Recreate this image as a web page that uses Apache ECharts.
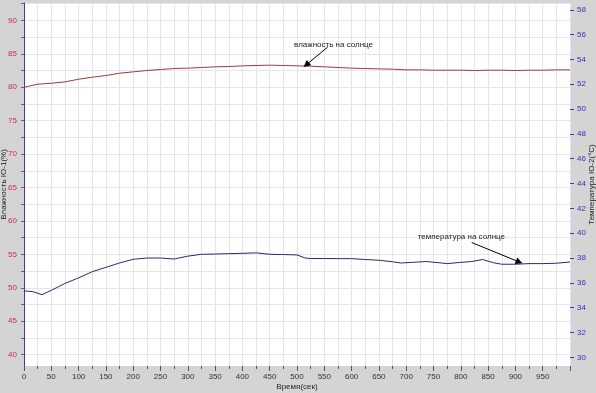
<!DOCTYPE html>
<html>
<head>
<meta charset="utf-8">
<script src="https://cdn.jsdelivr.net/npm/echarts@6/dist/echarts.min.js"></script>
<style>html,body{margin:0;padding:0;background:#d4d4d4;}#c{width:596px;height:393px;}</style>
</head>
<body>
<div id="c"></div>
<script>
// Time (s) and humidity IO-1 (%)
const humTime = [0,25,50,75,100,125,150,175,200,225,250,275,300,325,350,375,400,425,450,475,500,525,550,575,600,625,650,675,700,725,750,775,800,825,850,875,900,925,950,975,1000];
const humValues = [80.0,80.45,80.6,80.8,81.2,81.5,81.75,82.1,82.3,82.5,82.65,82.8,82.85,82.95,83.05,83.1,83.2,83.25,83.3,83.25,83.2,83.15,83.05,82.95,82.85,82.8,82.75,82.7,82.6,82.6,82.55,82.55,82.55,82.5,82.55,82.55,82.5,82.55,82.55,82.6,82.6];
// Time (s) and temperature IO-2 (°C)
const tempTime = [0,15,33,50,75,100,125,150,175,200,225,250,275,300,325,350,375,400,425,450,475,500,515,525,550,575,600,625,650,675,690,712,737,760,775,800,820,840,860,875,900,925,950,975,1000];
const tempValues = [35.35,35.3,35.05,35.4,35.95,36.4,36.9,37.25,37.6,37.9,38.0,38.0,37.92,38.15,38.3,38.32,38.35,38.38,38.42,38.3,38.28,38.25,38.0,37.96,37.96,37.95,37.95,37.88,37.82,37.7,37.6,37.65,37.72,37.62,37.55,37.65,37.72,37.88,37.62,37.5,37.5,37.55,37.55,37.58,37.68];
// Tick values
const humLabels = [40,45,50,55,60,65,70,75,80,85,90];
const humTicks = [40,42.5,45,47.5,50,52.5,55,57.5,60,62.5,65,67.5,70,72.5,75,77.5,80,82.5,85,87.5,90,92.5];
const tempLabels = [30,32,34,36,38,40,42,44,46,48,50,52,54,56,58];
// Annotations
const humNote = {text:'влажность на солнце', label:[567,86.4], from:[556,86.0], to:[517,83.35]};
const tempNote = {text:'температура на солнце', label:[801,39.75], from:[820,39.25], to:[907,37.68]};

const font = 'Liberation Sans, Arial, sans-serif';
const chart = echarts.init(document.getElementById('c'), null, {renderer:'canvas'});
const gridLine = {show:true, lineStyle:{color:'#e4e4ea', width:1}};
function note(n){
  return {
    markLine:{silent:true, animation:false, symbol:['none','triangle'], symbolSize:7,
      lineStyle:{color:'#000', width:1, type:'solid'}, label:{show:false},
      data:[[{coord:n.from},{coord:n.to}]]},
    markPoint:{silent:true, animation:false, symbol:'circle', symbolSize:0,
      label:{show:true, position:'inside', color:'#222', fontSize:8, fontFamily:font, formatter:()=>n.text},
      data:[{coord:n.label, name:n.text}]}
  };
}
chart.setOption({
  animation:false,
  backgroundColor:'#d4d4d4',
  grid:{left:24, right:26, top:3, bottom:27, show:true, backgroundColor:'#ffffff', borderWidth:0,
    containLabel:false, outerBoundsMode:'none'},
  xAxis:{type:'value', min:0, max:1000, interval:50,
    name:'Время(сек)', nameLocation:'middle', nameGap:17, nameMoveOverlap:false,
    nameTextStyle:{color:'#222', fontSize:8, fontFamily:font},
    axisLine:{show:false},
    axisTick:{show:true, length:5, lineStyle:{color:'#555'}},
    minorTick:{show:true, splitNumber:2, length:3, lineStyle:{color:'#555'}},
    axisLabel:{color:'#333', fontSize:8, fontFamily:font, margin:7, showMaxLabel:false,
      formatter:v=> v>=1000 ? '' : String(v)},
    splitLine:gridLine, minorSplitLine:gridLine},
  yAxis:[
    {type:'value', min:38.3, max:92.6, position:'left',
      name:'Влажность IO-1(%)', nameLocation:'middle', nameGap:16, nameMoveOverlap:false,
      nameTextStyle:{color:'#222', fontSize:8, fontFamily:font},
      axisLine:{show:true, lineStyle:{color:'#3a3ab4', width:1}},
      axisTick:{show:true, length:3, customValues:humTicks, lineStyle:{color:'#666'}},
      axisLabel:{color:'#d0284e', fontSize:8, fontFamily:font, margin:7, customValues:humLabels},
      splitLine:gridLine},
    {type:'value', min:29.3, max:58.55, position:'right',
      name:'Температура IO-2(°C)', nameLocation:'middle', nameGap:18, nameRotate:90, nameMoveOverlap:false,
      nameTextStyle:{color:'#222', fontSize:8, fontFamily:font},
      axisLine:{show:false},
      axisTick:{show:true, length:4, customValues:tempLabels, lineStyle:{color:'#3a3ab4'}},
      axisLabel:{color:'#3232b8', fontSize:8, fontFamily:font, margin:7, customValues:tempLabels},
      splitLine:{show:false}}
  ],
  series:[
    Object.assign({type:'line', name:'humidity', yAxisIndex:0, showSymbol:false, symbol:'none',
      lineStyle:{color:'#a03a3a', width:1}, itemStyle:{color:'#a03a3a'},
      data:humTime.map((t,i)=>[t,humValues[i]])}, note(humNote)),
    Object.assign({type:'line', name:'temperature', yAxisIndex:1, showSymbol:false, symbol:'none',
      lineStyle:{color:'#2a2a70', width:1}, itemStyle:{color:'#2a2a70'},
      data:tempTime.map((t,i)=>[t,tempValues[i]])}, note(tempNote))
  ]
});
</script>
</body>
</html>
